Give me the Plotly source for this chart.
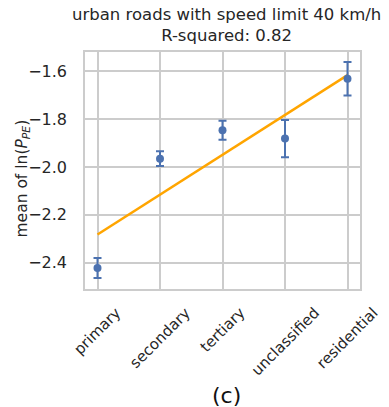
import numpy as np
import plotly.graph_objects as go

# Road classes along the x axis
road_types = ["primary", "secondary", "tertiary", "unclassified", "residential"]
# Mean of ln(P_PE) per road class and the half-width of its error bar
mean_ln_ppe = [-2.422, -1.965, -1.846, -1.881, -1.631]
err_ln_ppe = [0.042, 0.031, 0.040, 0.078, 0.070]
# y-axis tick values
y_ticks = [-2.4, -2.2, -2.0, -1.8, -1.6]

BLUE = "#4C72B0"
ORANGE = "#FFA500"
GRID = "#CCCCCC"
TEXT = "#262626"
FONT = "DejaVu Sans"

# Linear fit of the means against the class index
idx = np.arange(len(road_types))
slope, intercept = np.polyfit(idx, mean_ln_ppe, 1)
fit = slope * idx + intercept
y = np.array(mean_ln_ppe)
r2 = 1 - np.sum((y - fit) ** 2) / np.sum((y - y.mean()) ** 2)

fig = go.Figure()
fig.add_trace(go.Scatter(
    x=road_types, y=fit, mode="lines",
    line=dict(color=ORANGE, width=2.5),
    showlegend=False, hoverinfo="skip",
))
fig.add_trace(go.Scatter(
    x=road_types, y=mean_ln_ppe, mode="markers",
    marker=dict(color=BLUE, size=8),
    error_y=dict(type="data", array=err_ln_ppe, color=BLUE, thickness=2, width=4),
    showlegend=False,
))

# Rotated category labels, centred under each tick
for name in road_types:
    fig.add_annotation(
        x=name, xref="x", y=0, yref="paper", yshift=-12,
        text=name, showarrow=False, textangle=-45,
        xanchor="center", yanchor="top",
        font=dict(family=FONT, size=15, color=TEXT),
    )

fig.add_annotation(
    x=0.5, xref="paper", xshift=4, y=1, yref="paper", yshift=5,
    text=f"urban roads with speed limit 40 km/h<br>R-squared: {r2:.2f}",
    showarrow=False, xanchor="center", yanchor="bottom",
    font=dict(family=FONT, size=16.5, color=TEXT),
)
fig.add_annotation(
    x=0, xref="paper", xshift=-63, y=0.5, yref="paper", yshift=-8,
    text="mean of ln(<i>P</i><sub><i>PE</i></sub>)",
    showarrow=False, textangle=-90, xanchor="center", yanchor="middle",
    font=dict(family=FONT, size=15.5, color=TEXT),
)
fig.add_annotation(
    x=0.5, xref="paper", xshift=4, y=0, yref="paper", yshift=-92,
    text="(c)", showarrow=False, xanchor="center", yanchor="top",
    font=dict(family=FONT, size=22, color="#111111"),
)

fig.update_xaxes(
    type="category", range=[-0.2, 4.2],
    showticklabels=False, showgrid=True, gridcolor=GRID, gridwidth=1.5,
    showline=True, linecolor=GRID, linewidth=1.5, mirror=True,
    zeroline=False, ticks="",
)
fig.update_yaxes(
    range=[-2.51, -1.519], tickvals=y_ticks, tickformat=".1f",
    tickfont=dict(family=FONT, size=16, color=TEXT),
    showgrid=True, gridcolor=GRID, gridwidth=1.5,
    showline=True, linecolor=GRID, linewidth=1.5, mirror=True,
    zeroline=False, ticks="", ticklabelstandoff=13,
)
fig.update_layout(
    width=389, height=407,
    margin=dict(l=85, r=29, t=52, b=118),
    paper_bgcolor="white", plot_bgcolor="white",
    font=dict(family=FONT, color=TEXT),
)

fig.write_html("out.html")
